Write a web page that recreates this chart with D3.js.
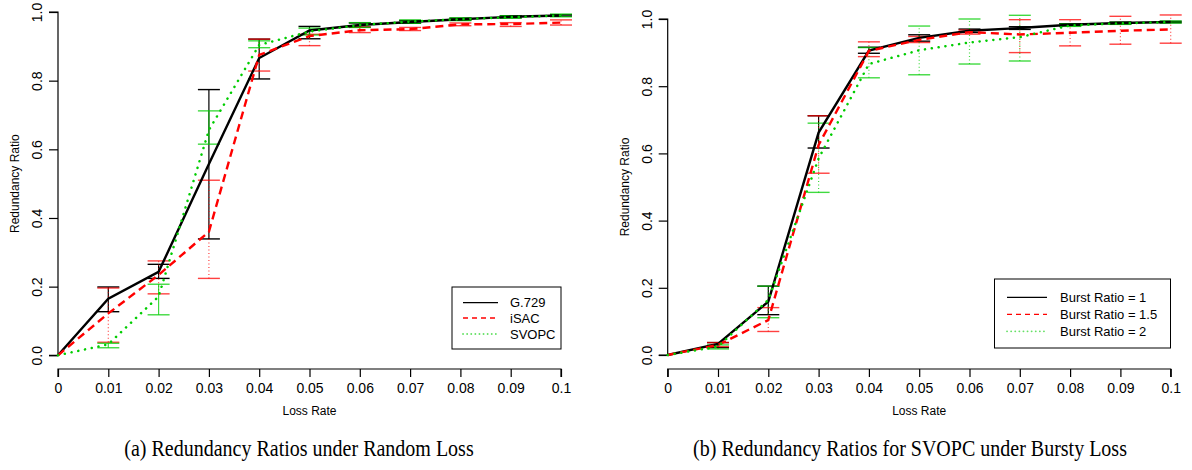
<!DOCTYPE html>
<html>
<head>
<meta charset="utf-8">
<script src="https://cdnjs.cloudflare.com/ajax/libs/d3/7.8.5/d3.min.js"></script>
<style>
  body { margin: 0; background: #fff; }
  svg { display: block; font-family: "Liberation Sans", Arial, sans-serif; }
</style>
</head>
<body>
<div class="chart"></div>
<script>
// loss rates on the x axis (both panels)
const lossRates = [0, 0.01, 0.02, 0.03, 0.04, 0.05, 0.06, 0.07, 0.08, 0.09, 0.1];
const xTickLabels = ['0', '0.01', '0.02', '0.03', '0.04', '0.05', '0.06', '0.07', '0.08', '0.09', '0.1'];
const yTicks = [0, 0.2, 0.4, 0.6, 0.8, 1.0];

// panel (a): random loss, mean + error bar low/high
const g729Mean = [0, 0.165, 0.243, 0.557, 0.866, 0.946, 0.962, 0.971, 0.979, 0.986, 0.990];
const g729Lo   = [0, 0.127, 0.224, 0.339, 0.805, 0.922, 0.956, 0.967, 0.976, 0.983, 0.988];
const g729Hi   = [0, 0.199, 0.265, 0.774, 0.921, 0.958, 0.968, 0.975, 0.982, 0.989, 0.992];
const isacMean = [0, 0.122, 0.234, 0.36, 0.875, 0.930, 0.947, 0.950, 0.964, 0.965, 0.969];
const isacLo   = [0, 0.038, 0.179, 0.224, 0.828, 0.902, 0.940, 0.946, 0.960, 0.958, 0.962];
const isacHi   = [0, 0.196, 0.275, 0.510, 0.921, 0.935, 0.956, 0.955, 0.968, 0.969, 0.977];
const svopcMean = [0, 0.032, 0.171, 0.656, 0.904, 0.943, 0.962, 0.972, 0.979, 0.985, 0.990];
const svopcLo   = [0, 0.022, 0.118, 0.615, 0.896, 0.933, 0.955, 0.967, 0.975, 0.982, 0.986];
const svopcHi   = [0, 0.035, 0.207, 0.712, 0.916, 0.953, 0.969, 0.977, 0.983, 0.989, 0.994];

// panel (b): SVOPC under bursty loss
const burst1Mean = [0, 0.033, 0.159, 0.662, 0.906, 0.944, 0.965, 0.973, 0.983, 0.988, 0.991];
const burst1Lo   = [0, 0.022, 0.120, 0.616, 0.898, 0.934, 0.960, 0.969, 0.980, 0.985, 0.989];
const burst1Hi   = [0, 0.037, 0.205, 0.712, 0.916, 0.953, 0.970, 0.977, 0.986, 0.991, 0.993];
const burst15Mean = [0, 0.030, 0.104, 0.625, 0.905, 0.938, 0.961, 0.954, 0.959, 0.965, 0.969];
const burst15Lo   = [0, 0.025, 0.070, 0.541, 0.888, 0.930, 0.955, 0.900, 0.920, 0.925, 0.928];
const burst15Hi   = [0, 0.037, 0.141, 0.712, 0.932, 0.948, 0.967, 0.998, 0.998, 1.008, 1.012];
const burst2Mean = [0, 0.025, 0.164, 0.585, 0.866, 0.907, 0.930, 0.946, 0.981, 0.987, 0.991];
const burst2Lo   = [0, 0.018, 0.111, 0.484, 0.825, 0.834, 0.866, 0.875, 0.978, 0.984, 0.988];
const burst2Hi   = [0, 0.030, 0.205, 0.690, 0.915, 0.979, 1.000, 1.011, 0.985, 0.990, 0.994];

const width = 1192, height = 470;
const svg = d3.select('.chart').append('svg')
    .attr('width', width)
    .attr('height', height);

// line styles: solid / dashed / dotted (R lty 1,2,3)
const styles = {
  solid:  {line: null, width: 2.4, cap: 'butt', legend: null, legendCap: 'butt'},
  dashed: {line: '8,5', width: 2.4, cap: 'butt', legend: '5,4', legendCap: 'butt'},
  dotted: {line: '0.1,6.8', width: 2.5, cap: 'round', legend: '0.1,4', legendCap: 'round'}
};

const panels = [
  {
    x0: 58, x1: 561, yTop: 12, yBottom: 355.3, axisY: 369, titleX: 15,
    caption: '(a) Redundancy Ratios under Random Loss', captionX: 299,
    legend: {x: 452, y: 287, w: 109, h: 62, lineX: 463, lineW: 35, textX: 510, rowY: [302.7, 318, 334]},
    series: [
      {name: 'G.729', mean: g729Mean, lo: g729Lo, hi: g729Hi, color: '#000', style: 'solid', barDash: null},
      {name: 'iSAC', mean: isacMean, lo: isacLo, hi: isacHi, color: '#ff0000', style: 'dashed', barDash: '1,2.5'},
      {name: 'SVOPC', mean: svopcMean, lo: svopcLo, hi: svopcHi, color: '#00cd00', style: 'dotted', barDash: null}
    ]
  },
  {
    x0: 667.7, x1: 1170.7, yTop: 19, yBottom: 355, axisY: 369, titleX: 625,
    caption: '(b) Redundancy Ratios for SVOPC under Bursty Loss', captionX: 910,
    legend: {x: 994.5, y: 279, w: 176, h: 69, lineX: 1007, lineW: 40, textX: 1060, rowY: [297.3, 314.3, 331.3]},
    series: [
      {name: 'Burst Ratio = 1', mean: burst1Mean, lo: burst1Lo, hi: burst1Hi, color: '#000', style: 'solid', barDash: null},
      {name: 'Burst Ratio = 1.5', mean: burst15Mean, lo: burst15Lo, hi: burst15Hi, color: '#ff0000', style: 'dashed', barDash: '1,2.5'},
      {name: 'Burst Ratio = 2', mean: burst2Mean, lo: burst2Lo, hi: burst2Hi, color: '#00cd00', style: 'dotted', barDash: '1,2.5'}
    ]
  }
];

panels.forEach(p => drawPanel(p));

function drawPanel(p) {
  const x = d3.scaleLinear().domain([0, 0.1]).range([p.x0, p.x1]);
  const y = d3.scaleLinear().domain([0, 1]).range([p.yBottom, p.yTop]);
  const g = svg.append('g');

  // x axis (offset below the plot like R)
  const xAxis = g.append('g')
      .attr('transform', `translate(0,${p.axisY})`)
      .call(d3.axisBottom(x).tickValues(lossRates)
            .tickFormat((d, i) => xTickLabels[i]).tickSize(8).tickPadding(6));
  // y axis
  const yAxis = g.append('g')
      .attr('transform', `translate(${p.x0},0)`)
      .call(d3.axisLeft(y).tickValues(yTicks).tickFormat(d3.format('.1f')).tickSize(9));

  [xAxis, yAxis].forEach(a => {
    a.attr('font-size', 14).attr('font-family', '"Liberation Sans", Arial, sans-serif');
    a.select('.domain').attr('stroke', '#000').attr('stroke-width', 1.2);
    a.selectAll('.tick line').attr('stroke', '#000').attr('stroke-width', 1.2);
    a.selectAll('text').attr('fill', '#000');
  });
  xAxis.select('.domain').attr('d', `M${p.x0},8V0H${p.x1}V8`);
  yAxis.select('.domain').attr('d', `M-9,${p.yBottom}H0V${p.yTop}H-9`);
  // rotate y tick labels to run along the axis
  yAxis.selectAll('.tick text')
      .attr('x', 0).attr('dy', null)
      .attr('text-anchor', 'middle')
      .attr('transform', 'translate(-21,0) rotate(-90)')
      .attr('dominant-baseline', 'central');

  // axis titles
  g.append('text')
      .attr('x', (p.x0 + p.x1) / 2).attr('y', 415)
      .attr('text-anchor', 'middle')
      .attr('font-size', 12)
      .text('Loss Rate');
  g.append('text')
      .attr('transform', `translate(${p.titleX},${(p.yTop + p.yBottom) / 2}) rotate(-90)`)
      .attr('text-anchor', 'middle')
      .attr('dominant-baseline', 'central')
      .attr('font-size', 12)
      .text('Redundancy Ratio');

  // error bars
  const cap = 11;
  p.series.forEach(s => {
    const eb = g.append('g')
        .attr('stroke', s.color)
        .attr('stroke-opacity', s.color === '#000' ? 1 : 0.75)
        .attr('fill', 'none');
    lossRates.forEach((lr, i) => {
      if (lr === 0) return;
      const cx = x(lr);
      eb.append('line')
          .attr('x1', cx).attr('x2', cx)
          .attr('y1', y(s.lo[i])).attr('y2', y(s.hi[i]))
          .attr('stroke-width', 1.2)
          .attr('stroke-dasharray', s.barDash);
      [s.lo[i], s.hi[i]].forEach(v => {
        eb.append('line')
            .attr('x1', cx - cap).attr('x2', cx + cap)
            .attr('y1', y(v)).attr('y2', y(v))
            .attr('stroke-width', 1.4);
      });
    });
  });

  // mean lines
  const line = d3.line().x((d, i) => x(lossRates[i])).y(d => y(d));
  p.series.forEach(s => {
    const st = styles[s.style];
    g.append('path')
        .datum(s.mean)
        .attr('d', line)
        .attr('fill', 'none')
        .attr('stroke', s.color)
        .attr('stroke-width', st.width)
        .attr('stroke-linecap', st.cap)
        .attr('stroke-dasharray', st.line);
  });

  // legend
  const L = p.legend;
  const lg = g.append('g');
  lg.append('rect')
      .attr('x', L.x).attr('y', L.y).attr('width', L.w).attr('height', L.h)
      .attr('fill', '#fff').attr('stroke', '#000').attr('stroke-width', 1);
  p.series.forEach((s, i) => {
    const st = styles[s.style];
    lg.append('line')
        .attr('x1', L.lineX).attr('x2', L.lineX + L.lineW)
        .attr('y1', L.rowY[i]).attr('y2', L.rowY[i])
        .attr('stroke', s.color)
        .attr('stroke-opacity', s.style === 'dotted' ? 0.6 : 1)
        .attr('stroke-width', s.style === 'dotted' ? 1.8 : 1.3)
        .attr('stroke-linecap', st.legendCap)
        .attr('stroke-dasharray', st.legend);
    lg.append('text')
        .attr('x', L.textX).attr('y', L.rowY[i])
        .attr('dominant-baseline', 'central')
        .attr('font-size', 13)
        .text(s.name);
  });

  // caption (tall, slightly condensed serif)
  svg.append('text')
      .attr('transform', `translate(${p.captionX},456) scale(0.87,1)`)
      .attr('text-anchor', 'middle')
      .attr('font-family', '"Liberation Serif", "Times New Roman", serif')
      .attr('font-size', 23)
      .text(p.caption);
}
</script>
</body>
</html>
